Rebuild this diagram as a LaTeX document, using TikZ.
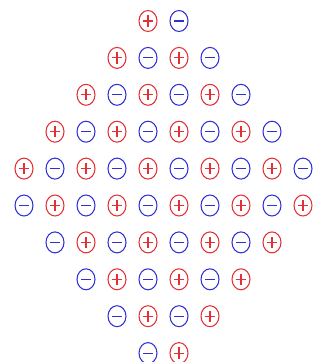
\documentclass[tikz,border=0pt]{standalone}
\usetikzlibrary{shapes.geometric}
\definecolor{posred}{RGB}{226,48,52}
\definecolor{negblue}{RGB}{48,48,214}

\begin{document}
\begin{tikzpicture}[
  x=0.03cm, y=-0.03cm,
  ion/.style    = {ellipse, draw, line width=0.9pt, inner sep=0pt,
                   minimum width=0.54cm, minimum height=0.63cm},
  posion/.style = {ion, draw=posred, path picture={
                     \draw[posred, line width=0.9pt,
                           shift={(path picture bounding box.center)}]
                       (-0.16cm,0) -- (0.16cm,0) (0,-0.17cm) -- (0,0.17cm);}},
  negion/.style = {ion, draw=negblue, path picture={
                     \draw[negblue, line width=0.9pt,
                           shift={(path picture bounding box.center)}]
                       (-0.15cm,0) -- (0.15cm,0);}}
]
\useasboundingbox (0,0) rectangle (325,362);
%% Charge lattice, rows r, columns c
\foreach \r/\s in {1/4,2/3,3/2,4/1,5/0,6/0,7/1,8/2,9/3,10/4}{
  \pgfmathtruncatemacro\e{9-\s}
  \foreach \c in {\s,...,\e}{
    \pgfmathtruncatemacro\p{mod(\r+\c,2)}
    \ifnum\p=1 \def\st{posion}\else\def\st{negion}\fi
    \node[\st] (q\r-\c) at ({24+31*\c},{21+36.9*(\r-1)}) {};}}
\end{tikzpicture}
\end{document}
